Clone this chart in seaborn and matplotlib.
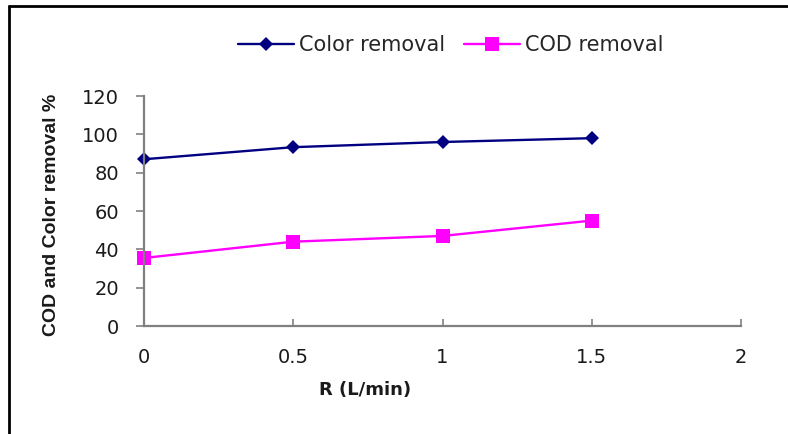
import matplotlib
matplotlib.use("Agg")
import matplotlib.pyplot as plt
import matplotlib.lines as mlines
import seaborn as sns
import pandas as pd

# Flow rate R (L/min) and removal efficiencies (%)
flow_rate = [0, 0.5, 1.0, 1.5]
color_removal = [87.0, 93.3, 96.0, 98.0]
cod_removal = [35.5, 44.0, 47.0, 55.0]
series_names = ["Color removal", "COD removal"]
x_ticks = [0, 0.5, 1, 1.5, 2]
x_tick_labels = ["0", "0.5", "1", "1.5", "2"]
y_ticks = [0, 20, 40, 60, 80, 100, 120]

df = pd.DataFrame({
    "R": flow_rate * 2,
    "removal": color_removal + cod_removal,
    "series": [series_names[0]] * len(flow_rate) + [series_names[1]] * len(flow_rate),
})

sns.set_theme(style="white")
plt.rcParams["font.family"] = ["DejaVu Sans"]

fig = plt.figure(figsize=(7.88, 4.34), dpi=100)
ax = fig.add_axes([0.1827, 0.2488, 0.7577, 0.53])

palette = {series_names[0]: "#000080", series_names[1]: "#FF00FF"}
markers = {series_names[0]: "D", series_names[1]: "s"}
sizes = {series_names[0]: 7.5, series_names[1]: 9.5}

sns.lineplot(data=df, x="R", y="removal", hue="series", style="series",
             palette=palette, markers=markers, dashes=False, ax=ax,
             linewidth=1.7, markeredgewidth=0, legend=False)
for line in ax.get_lines():
    line.set_clip_on(False)
for line, name in zip(ax.get_lines(), series_names):
    line.set_markersize(sizes[name])

ax.set_xlim(0, 2)
ax.set_ylim(0, 120)
ax.set_xticks(x_ticks)
ax.set_xticklabels(x_tick_labels)
ax.set_yticks(y_ticks)

for side in ["top", "right"]:
    ax.spines[side].set_visible(False)
for side in ["left", "bottom"]:
    ax.spines[side].set_color("#808080")
    ax.spines[side].set_linewidth(1.6)

ax.tick_params(axis="y", direction="out", length=6, width=1.2, color="#808080",
               labelsize=14, pad=12, labelcolor="#1a1a1a", left=True)
ax.tick_params(axis="x", direction="in", length=5, width=1.2, color="#808080",
               labelsize=14, pad=16, labelcolor="#1a1a1a", bottom=True)

ax.set_xlabel("R (L/min)", fontsize=13, fontweight="bold", color="#1a1a1a")
ax.xaxis.set_label_coords(0.37, -0.24)
ax.set_ylabel("COD and Color removal %", fontsize=14, fontweight="bold",
              color="#1a1a1a", family=["Liberation Sans", "DejaVu Sans"])
ax.yaxis.set_label_coords(-0.14, 0.483)

handles = [
    mlines.Line2D([], [], color=palette[n], marker=markers[n], markersize=sizes[n],
                  markeredgewidth=0, linewidth=1.7)
    for n in series_names
]
fig.legend(handles, series_names, loc="center", bbox_to_anchor=(0.572, 0.896),
           ncol=2, frameon=False, fontsize=15, handlelength=2.7, handletextpad=0.25,
           columnspacing=0.9)

# frame lines along the top and left edges of the figure
fig.add_artist(mlines.Line2D([0.011, 1.0], [0.986, 0.986], color="black", linewidth=2,
                             transform=fig.transFigure))
fig.add_artist(mlines.Line2D([0.011, 0.011], [0.0, 0.986], color="black", linewidth=2,
                             transform=fig.transFigure))

fig.savefig("out.png", dpi=100)
